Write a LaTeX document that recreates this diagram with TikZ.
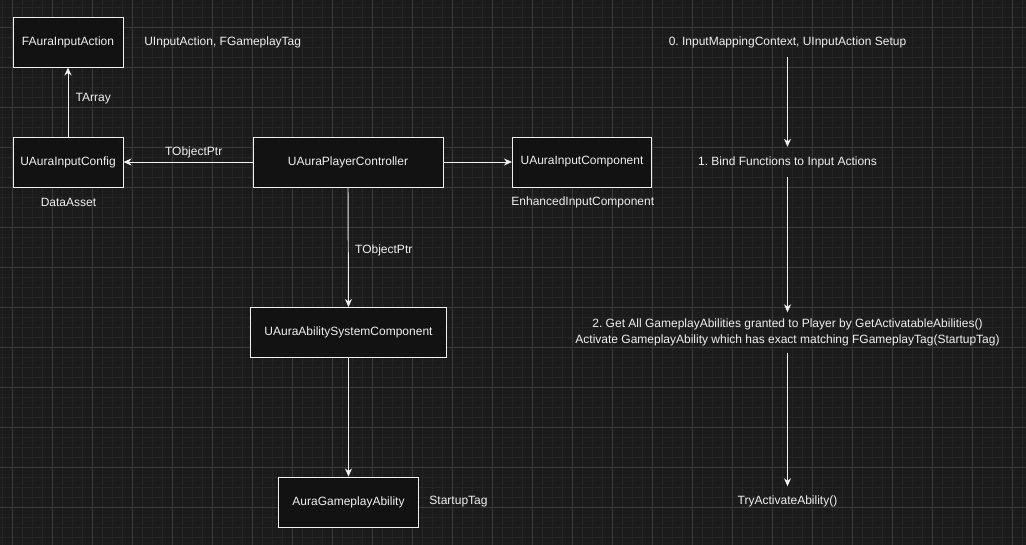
\documentclass[tikz,border=0pt]{standalone}
\usepackage{fontspec}
\setmainfont{Liberation Sans}
\usetikzlibrary{arrows.meta}
\frenchspacing
\definecolor{bg}{HTML}{1B1B1B}
\definecolor{boxfill}{HTML}{121212}
\definecolor{gminor}{HTML}{252525}
\definecolor{gmajor}{HTML}{3A3A3A}
\definecolor{fg}{HTML}{F0F0F0}
\tikzset{
  box/.style={draw=fg, fill=boxfill, line width=0.95pt, inner sep=0pt, text=fg},
  lbl/.style={text=fg, inner sep=0pt},
  flowtxt/.style={text=fg, inner sep=0pt, minimum height=30pt, align=center},
  arr/.style={draw=fg, line width=0.95pt, -{Stealth[length=8pt, width=7pt, inset=2.5pt]}},
}
\begin{document}
\begin{tikzpicture}[x=1pt, y=-1pt, font=\fontsize{12}{15.5}\selectfont]
\useasboundingbox (0,0) rectangle (1026,545);
\fill[bg] (0,0) rectangle (1026,545);
% grid
\foreach \i in {0,...,102} {
  \draw[gminor, line width=0.6pt] (2.3+10*\i,0) -- (2.3+10*\i,545);
}
\foreach \j in {0,...,54} {
  \draw[gminor, line width=0.6pt] (0,7.3+10*\j) -- (1026,7.3+10*\j);
}
\foreach \i in {0,...,25} {
  \draw[gmajor, line width=0.8pt] (12.3+40*\i,0) -- (12.3+40*\i,545);
}
\foreach \j in {0,...,13} {
  \draw[gmajor, line width=0.8pt] (0,27.3+40*\j) -- (1026,27.3+40*\j);
}
% boxes
\node[box, minimum width=110pt, minimum height=50pt] (fai) at (68,42) {FAuraInputAction};
\node[box, minimum width=110pt, minimum height=50pt] (cfg) at (68,162) {UAuraInputConfig};
\node[box, minimum width=190pt, minimum height=50pt] (pc) at (348,162) {UAuraPlayerController};
\node[box, minimum width=139pt, minimum height=50pt] (ic) at (582,162) {UAuraInputComponent};
\node[box, minimum width=196pt, minimum height=50pt] (asc) at (348.5,332.5) {UAuraAbilitySystemComponent};
\node[box, minimum width=140pt, minimum height=50pt] (ga) at (348.5,502) {AuraGameplayAbility};
% free labels
\node[lbl] (l1) at (222.7,42) {UInputAction, FGameplayTag};
\node[lbl] (l2) at (68.5,202) {DataAsset};
\node[lbl] (l3) at (582.8,202) {EnhancedInputComponent};
\node[lbl] (l4) at (458.5,502) {StartupTag};
% connectors
\draw[arr] (cfg.north) -- node[lbl, pos=0.543, xshift=25.3pt] {TArray} (fai.south);
\draw[arr] (pc.west) -- node[lbl, pos=0.456, yshift=10pt] {TObjectPtr} (cfg.east);
\draw[arr] (pc.east) -- (ic.west);
\draw[arr] (pc.south) -- node[lbl, pos=0.529, xshift=35.5pt] {TObjectPtr} (asc.north);
\draw[arr] (asc.south) -- (ga.north);
% flow on the right
\node[flowtxt] (t0) at (787.5,42) {0. InputMappingContext, UInputAction Setup};
\node[flowtxt] (t1) at (787.5,162) {1. Bind Functions to Input Actions};
\node[flowtxt, minimum height=40pt] (t2) at (787.5,332.5) {2. Get All GameplayAbilities granted to Player by GetActivatableAbilities()\\Activate GameplayAbility which has exact matching FGameplayTag(StartupTag)};
\node[flowtxt] (t3) at (787.5,501.5) {TryActivateAbility()};
\draw[arr] (t0.south) -- (t1.north);
\draw[arr] (t1.south) -- (t2.north);
\draw[arr] (t2.south) -- (t3.north);
\end{tikzpicture}
\end{document}
